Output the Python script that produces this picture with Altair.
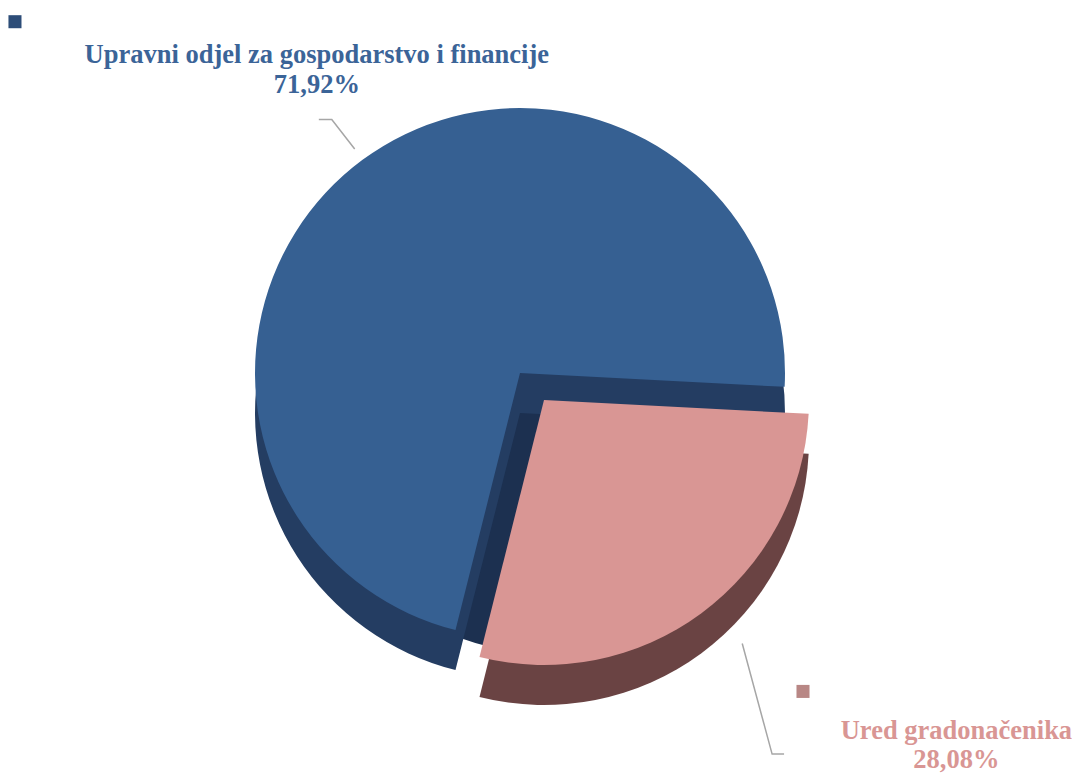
import altair as alt
import pandas as pd
import math

categories = ["Ured gradonačenika", "Upravni odjel za gospodarstvo i financije"]
values = [28.08, 71.92]
pct_labels = ["28,08%", "71,92%"]
order = [0, 1]

df = pd.DataFrame({"cat": categories, "val": values, "lbl": pct_labels, "ord": order})

W, H = 1064, 766
CX, CY = 512, 365
R = 265
DEPTH = 40
DX, DY = 24, 27
start = math.radians(93)

theta_scale = alt.Scale(domain=[0, 100], range=[start, start + 2 * math.pi])

def pie(color_map, dx, dy, which, radius=R):
    return alt.Chart(df).mark_arc(outerRadius=radius, stroke=None).encode(
        theta=alt.Theta("val:Q", stack=True, scale=theta_scale),
        order=alt.Order("ord:Q"),
        color=alt.Color("cat:N", scale=alt.Scale(domain=categories, range=color_map), legend=None),
        opacity=alt.condition(alt.datum.cat == which, alt.value(1), alt.value(0)),
        x=alt.value(CX + dx),
        y=alt.value(CY + dy),
    )

blue_cat = categories[1]
pink_cat = categories[0]

blue_cut = pie(["#5a3a3a", "#1c3050"], DX, DEPTH, blue_cat, radius=R - 25)
blue_side = pie(["#5a3a3a", "#243d62"], 0, DEPTH, blue_cat)
blue_top = pie(["#d99694", "#366092"], 0, 0, blue_cat)
pink_side = pie(["#6a4343", "#22385a"], DX, DY + DEPTH, pink_cat)
pink_top = pie(["#d99694", "#366092"], DX, DY, pink_cat)

label_df = pd.DataFrame({
    "line1": ["Upravni odjel za gospodarstvo i financije", "Ured gradonačenika"],
    "line2": ["71,92%", "28,08%"],
    "color": ["#3b6498", "#d99694"],
    "x": [310, 952],
    "y1": [48, 738],
    "y2": [79, 768],
})

def text_layer(field, yfield):
    return alt.Chart(label_df).mark_text(
        font="Liberation Serif", fontWeight="bold", fontSize=26.5, align="center", baseline="middle"
    ).encode(
        text=f"{field}:N",
        x=alt.X("x:Q", scale=alt.Scale(domain=[0, W]), axis=None),
        y=alt.Y(f"{yfield}:Q", scale=alt.Scale(domain=[0, H], reverse=True), axis=None),
        color=alt.Color("color:N", scale=None),
    )

leader_a = pd.DataFrame({"x": [312, 325, 348], "y": [114, 114, 144], "g": [0, 0, 0], "i": [0, 1, 2]})
leader_b = pd.DataFrame({"x": [737, 767, 779], "y": [649, 762, 762], "g": [1, 1, 1], "i": [0, 1, 2]})
leaders = pd.concat([leader_a, leader_b])

leader = alt.Chart(leaders).mark_line(color="#a6a6a6", strokeWidth=1.5).encode(
    x=alt.X("x:Q", scale=alt.Scale(domain=[0, W]), axis=None),
    y=alt.Y("y:Q", scale=alt.Scale(domain=[0, H], reverse=True), axis=None),
    detail="g:N",
    order="i:Q",
)

markers_df = pd.DataFrame({"x": [7, 798], "y": [14, 698], "color": ["#2d4d78", "#b88785"]})
markers = alt.Chart(markers_df).mark_square(size=170, opacity=1).encode(
    x=alt.X("x:Q", scale=alt.Scale(domain=[0, W]), axis=None),
    y=alt.Y("y:Q", scale=alt.Scale(domain=[0, H], reverse=True), axis=None),
    color=alt.Color("color:N", scale=None),
)

chart = alt.layer(
    blue_cut, blue_side, blue_top, pink_side, pink_top,
    leader, markers, text_layer("line1", "y1"), text_layer("line2", "y2"),
).resolve_scale(color="independent").properties(
    width=W, height=H, padding=0,
    autosize=alt.AutoSizeParams(type="fit", contains="padding"),
).configure_view(stroke=None)

chart.save("out.html", embed_options={"renderer": "svg", "actions": False})
